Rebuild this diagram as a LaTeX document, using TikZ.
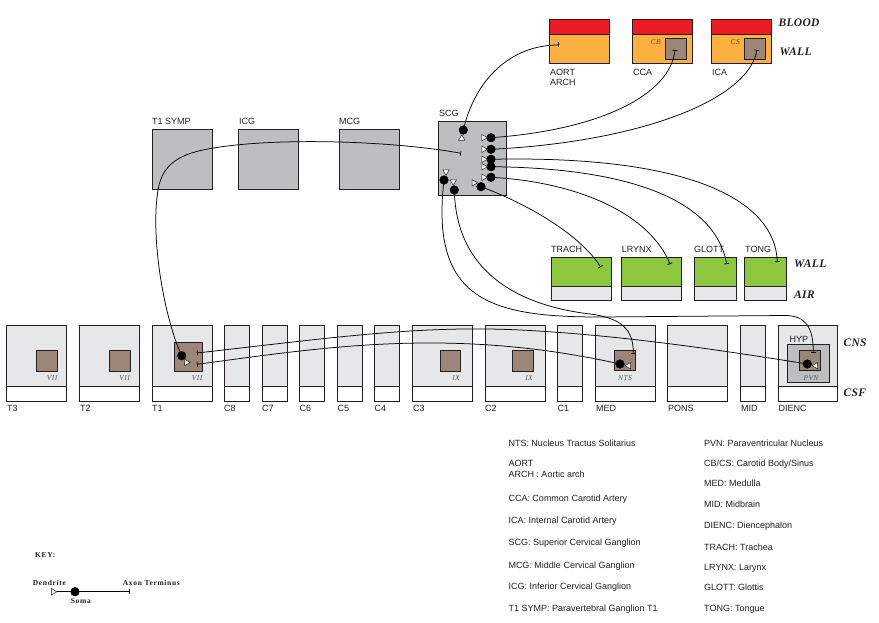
\documentclass[tikz,border=0pt]{standalone}
\usepackage{fontspec}
\setmainfont{Liberation Serif}
\setsansfont{Liberation Sans}
\newfontfamily\labf{Liberation Sans}
\newfontfamily\keyf[LetterSpace=9]{Liberation Serif}
\newfontfamily\nucf[LetterSpace=5]{Liberation Serif}
\newfontfamily\zonef[LetterSpace=3]{Liberation Serif}
\usetikzlibrary{arrows.meta,shapes.geometric}
\definecolor{ink}{HTML}{231F20}
\definecolor{bloodred}{HTML}{ED1C24}
\definecolor{wallorange}{HTML}{FBB040}
\definecolor{nucbrown}{HTML}{9C8579}
\definecolor{paleg}{HTML}{E6E7E8}
\definecolor{gang}{HTML}{BCBEC0}
\definecolor{leaf}{HTML}{8DC63F}
\definecolor{nuctext}{HTML}{5A5B5E}
\definecolor{cbtext}{HTML}{7A4A1E}
\newcommand{\bx}[6]{\node[box,fill=#6,minimum width=#4pt,minimum height=#5pt] (#1) at (#2,#3) {};}
\tikzset{
  box/.style={draw=ink, line width=0.8pt, inner sep=0pt, outer sep=0pt, anchor=north west},
  soma/.style={circle, fill=black, draw=black, inner sep=0pt, minimum size=8.7pt},
  dend/.style={isosceles triangle, isosceles triangle apex angle=60, draw=ink, fill=white,
     line width=0.5pt, inner sep=0pt, minimum height=5.5pt, minimum width=5.5pt, shape border rotate=#1},
  dend/.default=0,
  conn/.style={draw=black, line width=0.75pt},
  term/.style={-{Bar[width=5pt,line width=0.75pt]}},
  lbl/.style={font=\labf\fontsize{9}{10.5}\selectfont, text=ink, inner sep=0pt, anchor=base west},
  zone/.style={font=\zonef\fontsize{11.5}{13}\selectfont\bfseries\itshape, text=ink, inner sep=0pt, anchor=base west},
  nuc/.style={font=\nucf\fontsize{7.5}{8}\selectfont\itshape, text=nuctext, inner sep=0pt},
  keyt/.style={font=\keyf\fontsize{7.5}{9}\selectfont\bfseries, text=ink, inner sep=0pt, anchor=base west},
}
\begin{document}
\begin{tikzpicture}[x=1pt,y=-1pt]
\useasboundingbox (0,0) rectangle (879,623);
% ---------- vessels ----------
\bx{aortW}{549}{34}{60}{29}{wallorange}
\bx{aortB}{549}{19}{60}{15}{bloodred}
\bx{ccaW}{632.5}{34}{60}{29}{wallorange}
\bx{ccaB}{632.5}{19}{60}{15}{bloodred}
\bx{icaW}{711}{34}{60}{29}{wallorange}
\bx{icaB}{711}{19}{60}{15}{bloodred}
\bx{cb}{665.3}{38.3}{20.7}{20.7}{nucbrown}
\bx{cs}{744.7}{38.3}{20.7}{20.7}{nucbrown}
% ---------- ganglia ----------
\bx{tsymp}{152}{129}{60}{60}{gang}
\bx{icg}{238.3}{129}{60}{60}{gang}
\bx{mcg}{339}{129}{60}{60}{gang}
\bx{scg}{438.3}{121}{68.5}{74.5}{gang}
% ---------- airway ----------
\bx{trachW}{551}{257}{60}{29}{leaf}
\bx{trachA}{551}{286}{60}{14}{paleg}
\bx{lrynxW}{621.7}{257}{60}{29}{leaf}
\bx{lrynxA}{621.7}{286}{60}{14}{paleg}
\bx{glottW}{694}{257}{42}{29}{leaf}
\bx{glottA}{694}{286}{42}{14}{paleg}
\bx{tongW}{744.3}{257}{42.4}{29}{leaf}
\bx{tongA}{744.3}{286}{42.4}{14}{paleg}
% ---------- CNS row ----------
\bx{t3C}{6.7}{325}{59.6}{61}{paleg}   \bx{t3F}{6.7}{386}{59.6}{15}{white}
\bx{t2C}{79.3}{325}{60}{61}{paleg}    \bx{t2F}{79.3}{386}{60}{15}{white}
\bx{t1C}{152}{325}{60}{61}{paleg}     \bx{t1F}{152}{386}{60}{15}{white}
\bx{c8C}{224}{325}{25.3}{61}{paleg}   \bx{c8F}{224}{386}{25.3}{15}{white}
\bx{c7C}{262}{325}{25.3}{61}{paleg}   \bx{c7F}{262}{386}{25.3}{15}{white}
\bx{c6C}{299.3}{325}{25}{61}{paleg}   \bx{c6F}{299.3}{386}{25}{15}{white}
\bx{c5C}{337.3}{325}{24.7}{61}{paleg} \bx{c5F}{337.3}{386}{24.7}{15}{white}
\bx{c4C}{374.3}{325}{24.7}{61}{paleg} \bx{c4F}{374.3}{386}{24.7}{15}{white}
\bx{c3C}{412.7}{325}{59.6}{61}{paleg} \bx{c3F}{412.7}{386}{59.6}{15}{white}
\bx{c2C}{485}{325}{60}{61}{paleg}     \bx{c2F}{485}{386}{60}{15}{white}
\bx{c1C}{557.7}{325}{25}{61}{paleg}   \bx{c1F}{557.7}{386}{25}{15}{white}
\bx{medC}{595.7}{325}{59.3}{61}{paleg} \bx{medF}{595.7}{386}{59.3}{15}{white}
\bx{ponsC}{667.7}{325}{60}{61}{paleg} \bx{ponsF}{667.7}{386}{60}{15}{white}
\bx{midC}{740.7}{325}{24.6}{61}{paleg} \bx{midF}{740.7}{386}{24.6}{15}{white}
\bx{diC}{778.3}{325}{59.4}{61}{paleg} \bx{diF}{778.3}{386}{59.4}{15}{white}
% nuclei
\bx{nT3}{36.7}{350}{21}{21}{nucbrown}
\bx{nT2}{109.3}{350}{20.7}{21}{nucbrown}
\bx{nT1}{174}{342.3}{28.7}{28.7}{nucbrown}
\bx{nC3}{440}{350}{20.7}{21}{nucbrown}
\bx{nC2}{512.3}{350}{21}{21}{nucbrown}
\bx{nNTS}{614.3}{350}{21.4}{20.7}{nucbrown}
\bx{hyp}{787.3}{344.3}{42}{38}{gang}
\bx{nPVN}{799}{350}{21}{20.7}{nucbrown}
% ---------- texts ----------
\node[lbl] (tAort) at (550,75.5) {AORT};
\node[lbl] (tArch) at (550,86) {ARCH};
\node[lbl] (tCca) at (633,75.5) {CCA};
\node[lbl] (tIca) at (712,75.5) {ICA};
\node[lbl] (tTs) at (152,124.3) {T1 SYMP};
\node[lbl] (tIcg) at (239,124.3) {ICG};
\node[lbl] (tMcg) at (339,124.3) {MCG};
\node[lbl] (tScg) at (439,117) {SCG};
\node[lbl] (tTrach) at (551,252) {TRACH};
\node[lbl] (tLrynx) at (621.7,252) {LRYNX};
\node[lbl] (tGlott) at (694,252) {GLOTT};
\node[lbl] (tTong) at (745,252) {TONG};
\node[lbl] (tT3) at (7,411) {T3};
\node[lbl] (tT2) at (80,411) {T2};
\node[lbl] (tT1) at (152,411) {T1};
\node[lbl] (tC8) at (224,411) {C8};
\node[lbl] (tC7) at (262,411) {C7};
\node[lbl] (tC6) at (299.5,411) {C6};
\node[lbl] (tC5) at (337.5,411) {C5};
\node[lbl] (tC4) at (374.5,411) {C4};
\node[lbl] (tC3) at (413,411) {C3};
\node[lbl] (tC2) at (485,411) {C2};
\node[lbl] (tC1) at (557.5,411) {C1};
\node[lbl] (tMed) at (596,411) {MED};
\node[lbl] (tPons) at (668,411) {PONS};
\node[lbl] (tMid) at (741,411) {MID};
\node[lbl] (tDienc) at (778.5,411) {DIENC};
\node[lbl] (tHyp) at (789.5,342) {HYP};
\node[zone] (zBlood) at (778.3,26.7) {BLOOD};
\node[zone] (zWall1) at (779.3,55.7) {WALL};
\node[zone] (zWall2) at (794,267.3) {WALL};
\node[zone] (zAir) at (794,298.3) {AIR};
\node[zone] (zCns) at (843.3,346.7) {CNS};
\node[zone] (zCsf) at (843.3,396.7) {CSF};
\node[nuc,anchor=base east] (vT3) at (57.5,380.3) {VII};
\node[nuc,anchor=base east] (vT2) at (130,380.3) {VII};
\node[nuc,anchor=base east] (vT1) at (202.5,380.3) {VII};
\node[nuc,anchor=base east] (vC3) at (460,380.3) {IX};
\node[nuc,anchor=base east] (vC2) at (533,380.3) {IX};
\node[nuc,anchor=base] (vNts) at (625,380.3) {NTS};
\node[nuc,anchor=base] (vPvn) at (811,380.3) {PVN};
\node[nuc,anchor=base east,text=cbtext] (vCb) at (661,45) {CB};
\node[nuc,anchor=base east,text=cbtext] (vCs) at (740,45) {CS};
% legend
\node[lbl] (g1) at (508.3,446) {NTS: Nucleus Tractus Solitarius};
\node[lbl] (g2) at (508.3,466.5) {AORT};
\node[lbl] (g3) at (508.3,477.5) {ARCH : Aortic arch};
\node[lbl] (g4) at (508.3,501) {CCA: Common Carotid Artery};
\node[lbl] (g5) at (508.3,523) {ICA: Internal Carotid Artery};
\node[lbl] (g6) at (508.3,545.5) {SCG: Superior Cervical Ganglion};
\node[lbl] (g7) at (508.3,568) {MCG: Middle Cervical Ganglion};
\node[lbl] (g8) at (508.3,589) {ICG: Inferior Cervical Ganglion};
\node[lbl] (g9) at (508.3,611.5) {T1 SYMP: Paravertebral Ganglion T1};
\node[lbl] (h1) at (704,446) {PVN: Paraventricular Nucleus};
\node[lbl] (h2) at (704,466.5) {CB/CS: Carotid Body/Sinus};
\node[lbl] (h3) at (704,486.5) {MED: Medulla};
\node[lbl] (h4) at (704,507) {MID: Midbrain};
\node[lbl] (h5) at (704,528) {DIENC: Diencephalon};
\node[lbl] (h6) at (704,550) {TRACH: Trachea};
\node[lbl] (h7) at (704,570) {LRYNX: Larynx};
\node[lbl] (h8) at (704,590.5) {GLOTT: Glottis};
\node[lbl] (h9) at (704,611.5) {TONG: Tongue};
% key texts
\node[keyt] (kKey) at (35,557.5) {KEY:};
\node[keyt] (kDen) at (32.7,585) {Dendrite};
\node[keyt] (kAxon) at (122.7,585) {Axon Terminus};
\node[keyt] (kSoma) at (70.7,603.3) {Soma};
% ---------- termini ----------
\coordinate (aortT) at (559,45);
\coordinate (cbT) at (675,50);
\coordinate (csT) at (757,50);
\coordinate (trachT) at (600.7,267);
\coordinate (lrynxT) at (670,264);
\coordinate (glottT) at (726.7,264);
\coordinate (tongT) at (777.3,262);
\coordinate (scgT) at (461,153.3);
\coordinate (t1tU) at (197,353);
\coordinate (t1tL) at (197,364.3);
\coordinate (ntsT) at (633.3,353.3);
\coordinate (pvnT) at (813.3,352.3);
\coordinate (keyT) at (129.3,591.7);
% ---------- soma positions ----------
\path (463.3,130) coordinate (pA) (491,137.7) coordinate (pR1) (491,149.3) coordinate (pR2)
      (491,159.3) coordinate (pR3) (491,166.7) coordinate (pR4) (491,177.3) coordinate (pR5)
      (481,186.7) coordinate (pB1) (444,180) coordinate (pB2) (454.3,190) coordinate (pB3)
      (181.7,355.7) coordinate (pT1) (620,364) coordinate (pNTS) (807.3,364) coordinate (pPVN)
      (75,591.7) coordinate (pKey) (53.3,591.7) coordinate (pKeyD);
% ---------- connectors ----------
\draw[conn,term] (pA) .. controls (475,80) and (510,45) .. (aortT);
\draw[conn,term] (pR1) .. controls (600,130) and (670,95) .. (cbT);
\draw[conn,term] (pR2) .. controls (640,142) and (748,100) .. (csT);
\draw[conn,term] (pR3) .. controls (690,155) and (775,200) .. (tongT);
\draw[conn,term] (pR4) .. controls (630,168) and (715,200) .. (glottT);
\draw[conn,term] (pR5) .. controls (580,182) and (650,215) .. (lrynxT);
\draw[conn,term] (pB1) .. controls (530,205) and (580,235) .. (trachT);
\draw[conn,term] (pB3) .. controls (456,270) and (515,305) .. (590,314) .. controls (622,318) and (633.3,330) .. (ntsT);
\draw[conn,term] (pB2) .. controls (430,300) and (490,317) .. (600,317) -- (785,315.5) .. controls (806,315.5) and (813.3,328) .. (pvnT);
\draw[conn,term] (pT1) .. controls (165,320) and (150,240) .. (158,190) .. controls (163,160) and (185,152) .. (220,147) .. controls (290,137) and (400,142) .. (scgT);
\draw[conn,term] (pPVN) .. controls (720,350) and (620,335) .. (520,330) .. controls (420,325) and (330,338) .. (t1tU);
\draw[conn,term] (pNTS) .. controls (450,326) and (320,348) .. (t1tL);
\draw[conn] (pKeyD) -- (pKey);
\draw[conn,term] (pKey) -- (keyT);
% ---------- somas and dendrites ----------
\node[soma] (sA) at (pA) {};
\node[soma] (sR1) at (pR1) {};
\node[soma] (sR2) at (pR2) {};
\node[soma] (sR3) at (pR3) {};
\node[soma] (sR4) at (pR4) {};
\node[soma] (sR5) at (pR5) {};
\node[soma] (sB1) at (pB1) {};
\node[soma] (sB2) at (pB2) {};
\node[soma] (sB3) at (pB3) {};
\node[soma] (sT1) at (pT1) {};
\node[soma] (sNTS) at (pNTS) {};
\node[soma] (sPVN) at (pPVN) {};
\node[soma] (sKey) at (pKey) {};
\node[dend=90] (dA) at (461.7,138.5) {};
\node[dend] (dR1) at (483.8,137.7) {};
\node[dend] (dR2) at (483.8,149.3) {};
\node[dend] (dR3) at (483.8,159.3) {};
\node[dend] (dR4) at (483.8,166.7) {};
\node[dend] (dR5) at (483.8,177.3) {};
\node[dend=-30] (dB1) at (474,182.8) {};
\node[dend=-90] (dB2) at (446,171.7) {};
\node[dend=-90] (dB3) at (453.3,181.7) {};
\node[dend] (dT1) at (186.5,362.5) {};
\node[dend=180] (dNTS) at (628.7,365.7) {};
\node[dend=180] (dPVN) at (815.8,365.7) {};
\node[dend] (dKey) at (pKeyD) {};
\end{tikzpicture}
\end{document}
